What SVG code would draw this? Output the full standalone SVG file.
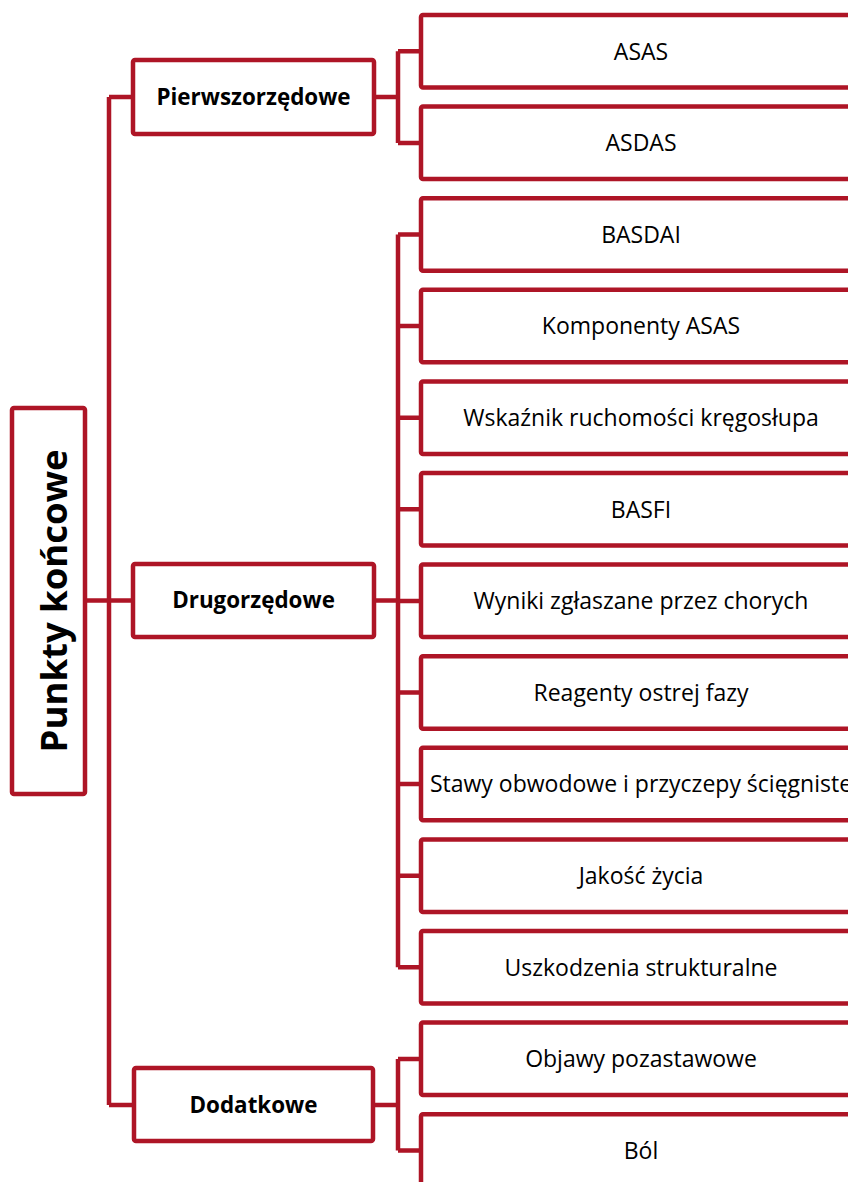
<svg xmlns="http://www.w3.org/2000/svg" width="848" height="1182" viewBox="0 0 848 1182">
<style>
.box{fill:#fff;stroke:#AE1526;stroke-width:4.5}
.con{fill:none;stroke:#AE1526;stroke-width:4.5;stroke-linejoin:round}
.lbl{font-family:"Open Sans","Noto Sans",sans-serif;font-size:23px;fill:#000;text-anchor:middle}
.mid{font-family:"Open Sans","Noto Sans",sans-serif;font-size:22.4px;font-weight:bold;fill:#000;text-anchor:middle}
.root{font-family:"Open Sans","Noto Sans",sans-serif;font-size:36.5px;font-weight:bold;fill:#000;text-anchor:middle}
</style>
<rect width="848" height="1182" fill="#fff"/>
<g id="connectors" class="con">
<path d="M85,600.5H133M109,97V1105M109,97H133M109,1105H134"/>
<path d="M374,97H398M398,51.3V142.9M398,51.3H421M398,142.9H421"/>
<path d="M374,600.5H398M398,234.5V967.3M398,234.5H421M398,326.1H421M398,417.7H421M398,509.3H421M398,600.9H421M398,692.5H421M398,784.1H421M398,875.7H421M398,967.3H421"/>
<path d="M373,1105H398M398,1058.9V1150.5M398,1058.9H421M398,1150.5H421"/>
</g>
<g id="root"><rect class="box" x="12" y="408" width="73" height="386" rx="2"/><text class="root" transform="translate(67,601) rotate(-90)">Punkty końcowe</text></g>
<g id="pierwszorzedowe"><rect class="box" x="133" y="60" width="241" height="74" rx="2"/><text class="mid" x="253.5" y="105">Pierwszorzędowe</text></g>
<g id="drugorzedowe"><rect class="box" x="133" y="564" width="241" height="73" rx="2"/><text class="mid" x="253.5" y="608">Drugorzędowe</text></g>
<g id="dodatkowe"><rect class="box" x="134" y="1068" width="239" height="73" rx="2"/><text class="mid" x="253.5" y="1113">Dodatkowe</text></g>
<g id="asas"><rect class="box" x="421" y="15" width="460" height="72.5" rx="2"/><text class="lbl" x="641" y="59.5">ASAS</text></g>
<g id="asdas"><rect class="box" x="421" y="106.6" width="460" height="72.5" rx="2"/><text class="lbl" x="641" y="151.1">ASDAS</text></g>
<g id="basdai"><rect class="box" x="421" y="198.2" width="460" height="72.5" rx="2"/><text class="lbl" x="641" y="242.7">BASDAI</text></g>
<g id="komponenty"><rect class="box" x="421" y="289.8" width="460" height="72.5" rx="2"/><text class="lbl" x="641" y="334.3">Komponenty ASAS</text></g>
<g id="wskaznik"><rect class="box" x="421" y="381.4" width="460" height="72.5" rx="2"/><text class="lbl" x="641" y="425.9">Wskaźnik ruchomości kręgosłupa</text></g>
<g id="basfi"><rect class="box" x="421" y="473" width="460" height="72.5" rx="2"/><text class="lbl" x="641" y="517.5">BASFI</text></g>
<g id="wyniki"><rect class="box" x="421" y="564.6" width="460" height="72.5" rx="2"/><text class="lbl" x="641" y="609.1">Wyniki zgłaszane przez chorych</text></g>
<g id="reagenty"><rect class="box" x="421" y="656.2" width="460" height="72.5" rx="2"/><text class="lbl" x="641" y="700.7">Reagenty ostrej fazy</text></g>
<g id="stawy"><rect class="box" x="421" y="747.8" width="460" height="72.5" rx="2"/><text class="lbl" x="641" y="792.3">Stawy obwodowe i przyczepy ścięgniste</text></g>
<g id="jakosc"><rect class="box" x="421" y="839.4" width="460" height="72.5" rx="2"/><text class="lbl" x="641" y="883.9">Jakość życia</text></g>
<g id="uszkodzenia"><rect class="box" x="421" y="931" width="460" height="72.5" rx="2"/><text class="lbl" x="641" y="975.5">Uszkodzenia strukturalne</text></g>
<g id="objawy"><rect class="box" x="421" y="1022.6" width="460" height="72.5" rx="2"/><text class="lbl" x="641" y="1067.1">Objawy pozastawowe</text></g>
<g id="bol"><rect class="box" x="421" y="1114.2" width="460" height="72.5" rx="2"/><text class="lbl" x="641" y="1158.7">Ból</text></g>
</svg>
